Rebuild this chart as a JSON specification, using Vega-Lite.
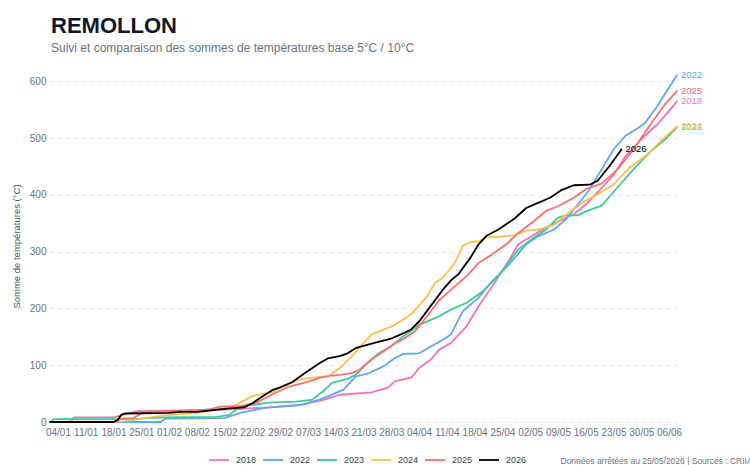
{
  "$schema": "https://vega.github.io/schema/vega-lite/v6.json",
  "width": 627,
  "height": 352,
  "autosize": {"type": "none"},
  "padding": {"left": 50, "top": 70, "right": 73, "bottom": 43},
  "background": "white",
  "config": {
    "font": "Liberation Sans",
    "view": {"stroke": null}
  },
  "title": {
    "text": "REMOLLON",
    "subtitle": "Suivi et comparaison des sommes de températures base 5°C / 10°C",
    "anchor": "start",
    "frame": "group",
    "font": "Liberation Sans",
    "fontSize": 22,
    "fontWeight": "bold",
    "color": "#0f172a",
    "subtitleFont": "Liberation Sans",
    "subtitleFontSize": 12,
    "subtitleColor": "#6b7280",
    "subtitlePadding": 5,
    "offset": 15,
    "dx": 1
  },
  "data": {
    "values": [
      {"year": "2018", "day": 2, "v": 0}, {"year": "2018", "day": 7, "v": 0}, {"year": "2018", "day": 8, "v": 8}, {"year": "2018", "day": 18, "v": 8}, {"year": "2018", "day": 19, "v": 10}, {"year": "2018", "day": 24, "v": 19}, {"year": "2018", "day": 32, "v": 20}, {"year": "2018", "day": 46, "v": 22}, {"year": "2018", "day": 56, "v": 25}, {"year": "2018", "day": 60, "v": 27}, {"year": "2018", "day": 64, "v": 29}, {"year": "2018", "day": 71, "v": 39}, {"year": "2018", "day": 75, "v": 48}, {"year": "2018", "day": 83, "v": 52}, {"year": "2018", "day": 87, "v": 60}, {"year": "2018", "day": 89, "v": 72}, {"year": "2018", "day": 93, "v": 78}, {"year": "2018", "day": 95, "v": 95}, {"year": "2018", "day": 98, "v": 110}, {"year": "2018", "day": 100, "v": 127}, {"year": "2018", "day": 103, "v": 139}, {"year": "2018", "day": 107, "v": 169}, {"year": "2018", "day": 110, "v": 204}, {"year": "2018", "day": 114, "v": 245}, {"year": "2018", "day": 118, "v": 289}, {"year": "2018", "day": 120, "v": 313}, {"year": "2018", "day": 124, "v": 330}, {"year": "2018", "day": 127, "v": 342}, {"year": "2018", "day": 130, "v": 353}, {"year": "2018", "day": 134, "v": 366}, {"year": "2018", "day": 137, "v": 383}, {"year": "2018", "day": 141, "v": 412}, {"year": "2018", "day": 144, "v": 435}, {"year": "2018", "day": 147, "v": 468}, {"year": "2018", "day": 151, "v": 498}, {"year": "2018", "day": 155, "v": 524}, {"year": "2018", "day": 158, "v": 548}, {"year": "2018", "day": 160, "v": 565},

      {"year": "2022", "day": 2, "v": 0}, {"year": "2022", "day": 30, "v": 0}, {"year": "2022", "day": 31, "v": 6}, {"year": "2022", "day": 46, "v": 7}, {"year": "2022", "day": 50, "v": 16}, {"year": "2022", "day": 56, "v": 25}, {"year": "2022", "day": 66, "v": 31}, {"year": "2022", "day": 71, "v": 42}, {"year": "2022", "day": 76, "v": 57}, {"year": "2022", "day": 79, "v": 80}, {"year": "2022", "day": 82, "v": 85}, {"year": "2022", "day": 86, "v": 98}, {"year": "2022", "day": 89, "v": 113}, {"year": "2022", "day": 91, "v": 120}, {"year": "2022", "day": 95, "v": 121}, {"year": "2022", "day": 98, "v": 133}, {"year": "2022", "day": 101, "v": 145}, {"year": "2022", "day": 103, "v": 154}, {"year": "2022", "day": 106, "v": 195}, {"year": "2022", "day": 110, "v": 219}, {"year": "2022", "day": 113, "v": 245}, {"year": "2022", "day": 118, "v": 280}, {"year": "2022", "day": 122, "v": 313}, {"year": "2022", "day": 125, "v": 327}, {"year": "2022", "day": 129, "v": 339}, {"year": "2022", "day": 132, "v": 357}, {"year": "2022", "day": 136, "v": 392}, {"year": "2022", "day": 138, "v": 410}, {"year": "2022", "day": 141, "v": 445}, {"year": "2022", "day": 144, "v": 480}, {"year": "2022", "day": 147, "v": 504}, {"year": "2022", "day": 150, "v": 517}, {"year": "2022", "day": 152, "v": 527}, {"year": "2022", "day": 155, "v": 556}, {"year": "2022", "day": 157, "v": 578}, {"year": "2022", "day": 159, "v": 600}, {"year": "2022", "day": 160, "v": 611},

      {"year": "2023", "day": 2, "v": 0}, {"year": "2023", "day": 3, "v": 5}, {"year": "2023", "day": 18, "v": 5}, {"year": "2023", "day": 25, "v": 6}, {"year": "2023", "day": 31, "v": 8}, {"year": "2023", "day": 44, "v": 9}, {"year": "2023", "day": 47, "v": 12}, {"year": "2023", "day": 50, "v": 27}, {"year": "2023", "day": 57, "v": 34}, {"year": "2023", "day": 64, "v": 36}, {"year": "2023", "day": 68, "v": 39}, {"year": "2023", "day": 71, "v": 55}, {"year": "2023", "day": 73, "v": 69}, {"year": "2023", "day": 77, "v": 76}, {"year": "2023", "day": 79, "v": 83}, {"year": "2023", "day": 82, "v": 104}, {"year": "2023", "day": 85, "v": 122}, {"year": "2023", "day": 88, "v": 133}, {"year": "2023", "day": 91, "v": 151}, {"year": "2023", "day": 93, "v": 160}, {"year": "2023", "day": 95, "v": 171}, {"year": "2023", "day": 100, "v": 186}, {"year": "2023", "day": 103, "v": 198}, {"year": "2023", "day": 107, "v": 210}, {"year": "2023", "day": 111, "v": 230}, {"year": "2023", "day": 115, "v": 257}, {"year": "2023", "day": 120, "v": 304}, {"year": "2023", "day": 124, "v": 325}, {"year": "2023", "day": 127, "v": 339}, {"year": "2023", "day": 130, "v": 360}, {"year": "2023", "day": 132, "v": 364}, {"year": "2023", "day": 135, "v": 364}, {"year": "2023", "day": 137, "v": 371}, {"year": "2023", "day": 141, "v": 381}, {"year": "2023", "day": 145, "v": 413}, {"year": "2023", "day": 149, "v": 445}, {"year": "2023", "day": 153, "v": 474}, {"year": "2023", "day": 157, "v": 498}, {"year": "2023", "day": 160, "v": 519},

      {"year": "2024", "day": 2, "v": 0}, {"year": "2024", "day": 21, "v": 1}, {"year": "2024", "day": 25, "v": 6}, {"year": "2024", "day": 28, "v": 9}, {"year": "2024", "day": 32, "v": 12}, {"year": "2024", "day": 35, "v": 14}, {"year": "2024", "day": 39, "v": 16}, {"year": "2024", "day": 42, "v": 19}, {"year": "2024", "day": 46, "v": 24}, {"year": "2024", "day": 49, "v": 30}, {"year": "2024", "day": 53, "v": 46}, {"year": "2024", "day": 56, "v": 50}, {"year": "2024", "day": 58, "v": 52}, {"year": "2024", "day": 61, "v": 64}, {"year": "2024", "day": 65, "v": 75}, {"year": "2024", "day": 68, "v": 78}, {"year": "2024", "day": 72, "v": 80}, {"year": "2024", "day": 75, "v": 95}, {"year": "2024", "day": 78, "v": 115}, {"year": "2024", "day": 81, "v": 139}, {"year": "2024", "day": 83, "v": 154}, {"year": "2024", "day": 85, "v": 160}, {"year": "2024", "day": 88, "v": 168}, {"year": "2024", "day": 91, "v": 180}, {"year": "2024", "day": 93, "v": 190}, {"year": "2024", "day": 95, "v": 205}, {"year": "2024", "day": 97, "v": 221}, {"year": "2024", "day": 99, "v": 245}, {"year": "2024", "day": 101, "v": 254}, {"year": "2024", "day": 104, "v": 280}, {"year": "2024", "day": 106, "v": 310}, {"year": "2024", "day": 108, "v": 317}, {"year": "2024", "day": 110, "v": 318}, {"year": "2024", "day": 112, "v": 326}, {"year": "2024", "day": 115, "v": 326}, {"year": "2024", "day": 119, "v": 329}, {"year": "2024", "day": 122, "v": 337}, {"year": "2024", "day": 125, "v": 339}, {"year": "2024", "day": 129, "v": 347}, {"year": "2024", "day": 132, "v": 365}, {"year": "2024", "day": 135, "v": 380}, {"year": "2024", "day": 137, "v": 390}, {"year": "2024", "day": 140, "v": 401}, {"year": "2024", "day": 144, "v": 418}, {"year": "2024", "day": 148, "v": 448}, {"year": "2024", "day": 152, "v": 468}, {"year": "2024", "day": 156, "v": 495}, {"year": "2024", "day": 160, "v": 521},

      {"year": "2025", "day": 2, "v": 0}, {"year": "2025", "day": 18, "v": 0}, {"year": "2025", "day": 20, "v": 6}, {"year": "2025", "day": 23, "v": 7}, {"year": "2025", "day": 25, "v": 15}, {"year": "2025", "day": 28, "v": 19}, {"year": "2025", "day": 39, "v": 20}, {"year": "2025", "day": 42, "v": 22}, {"year": "2025", "day": 45, "v": 27}, {"year": "2025", "day": 50, "v": 28}, {"year": "2025", "day": 54, "v": 34}, {"year": "2025", "day": 57, "v": 45}, {"year": "2025", "day": 60, "v": 55}, {"year": "2025", "day": 62, "v": 62}, {"year": "2025", "day": 66, "v": 69}, {"year": "2025", "day": 71, "v": 80}, {"year": "2025", "day": 75, "v": 83}, {"year": "2025", "day": 78, "v": 86}, {"year": "2025", "day": 80, "v": 92}, {"year": "2025", "day": 83, "v": 110}, {"year": "2025", "day": 86, "v": 124}, {"year": "2025", "day": 89, "v": 139}, {"year": "2025", "day": 91, "v": 146}, {"year": "2025", "day": 94, "v": 160}, {"year": "2025", "day": 97, "v": 186}, {"year": "2025", "day": 100, "v": 214}, {"year": "2025", "day": 104, "v": 239}, {"year": "2025", "day": 107, "v": 257}, {"year": "2025", "day": 110, "v": 280}, {"year": "2025", "day": 114, "v": 298}, {"year": "2025", "day": 117, "v": 313}, {"year": "2025", "day": 120, "v": 333}, {"year": "2025", "day": 124, "v": 354}, {"year": "2025", "day": 127, "v": 372}, {"year": "2025", "day": 130, "v": 380}, {"year": "2025", "day": 134, "v": 395}, {"year": "2025", "day": 137, "v": 410}, {"year": "2025", "day": 141, "v": 420}, {"year": "2025", "day": 145, "v": 445}, {"year": "2025", "day": 149, "v": 480}, {"year": "2025", "day": 153, "v": 521}, {"year": "2025", "day": 157, "v": 560}, {"year": "2025", "day": 160, "v": 583},

      {"year": "2026", "day": 2, "v": 0}, {"year": "2026", "day": 18, "v": 0}, {"year": "2026", "day": 19, "v": 3}, {"year": "2026", "day": 20, "v": 13}, {"year": "2026", "day": 21, "v": 15}, {"year": "2026", "day": 32, "v": 16}, {"year": "2026", "day": 35, "v": 18}, {"year": "2026", "day": 39, "v": 18}, {"year": "2026", "day": 42, "v": 20}, {"year": "2026", "day": 46, "v": 23}, {"year": "2026", "day": 49, "v": 25}, {"year": "2026", "day": 51, "v": 26}, {"year": "2026", "day": 53, "v": 33}, {"year": "2026", "day": 56, "v": 47}, {"year": "2026", "day": 58, "v": 56}, {"year": "2026", "day": 60, "v": 61}, {"year": "2026", "day": 63, "v": 70}, {"year": "2026", "day": 65, "v": 80}, {"year": "2026", "day": 67, "v": 90}, {"year": "2026", "day": 70, "v": 104}, {"year": "2026", "day": 72, "v": 112}, {"year": "2026", "day": 75, "v": 116}, {"year": "2026", "day": 77, "v": 121}, {"year": "2026", "day": 79, "v": 130}, {"year": "2026", "day": 81, "v": 134}, {"year": "2026", "day": 84, "v": 140}, {"year": "2026", "day": 88, "v": 147}, {"year": "2026", "day": 91, "v": 156}, {"year": "2026", "day": 93, "v": 163}, {"year": "2026", "day": 95, "v": 177}, {"year": "2026", "day": 96, "v": 186}, {"year": "2026", "day": 98, "v": 205}, {"year": "2026", "day": 101, "v": 233}, {"year": "2026", "day": 103, "v": 249}, {"year": "2026", "day": 105, "v": 261}, {"year": "2026", "day": 108, "v": 290}, {"year": "2026", "day": 110, "v": 313}, {"year": "2026", "day": 112, "v": 328}, {"year": "2026", "day": 115, "v": 339}, {"year": "2026", "day": 119, "v": 358}, {"year": "2026", "day": 122, "v": 377}, {"year": "2026", "day": 125, "v": 386}, {"year": "2026", "day": 128, "v": 395}, {"year": "2026", "day": 131, "v": 409}, {"year": "2026", "day": 134, "v": 417}, {"year": "2026", "day": 138, "v": 418}, {"year": "2026", "day": 140, "v": 425}, {"year": "2026", "day": 143, "v": 451}, {"year": "2026", "day": 146, "v": 480}
    ]
  },
  "encoding": {
    "x": {
      "field": "day",
      "type": "quantitative",
      "scale": {"domain": [2, 160], "nice": false, "zero": false},
      "axis": {
        "values": [4, 11, 18, 25, 32, 39, 46, 53, 60, 67, 74, 81, 88, 95, 102, 109, 116, 123, 130, 137, 144, 151, 158],
        "labelExpr": "timeFormat(datetime(2024, 0, datum.value), '%d/%m')",
        "grid": false,
        "domain": false,
        "ticks": false,
        "labelFontSize": 10,
        "labelColor": "#6b7280",
        "labelPadding": 5,
        "labelFlush": false,
        "labelOverlap": false,
        "title": "Données arrêtées au 25/05/2026 | Sources : CRIIAM Sud",
        "titleFontSize": 8.5,
        "titleFontWeight": "normal",
        "titleColor": "#6b7280",
        "titleAnchor": "start",
        "titleAlign": "left",
        "titleBaseline": "middle",
        "titleX": 510,
        "titleY": 38
      }
    },
    "y": {
      "field": "v",
      "type": "quantitative",
      "scale": {"domain": [0, 620], "nice": false},
      "axis": {
        "values": [0, 100, 200, 300, 400, 500, 600],
        "grid": true,
        "gridDash": [4, 4],
        "gridColor": "#e5e7eb",
        "domain": false,
        "ticks": false,
        "labelFontSize": 10,
        "labelColor": "#6b7280",
        "labelPadding": 4,
        "title": "Somme de températures (°C)",
        "titleFontSize": 9.5,
        "titleFontWeight": "normal",
        "titleColor": "#4b5563",
        "titlePadding": 8
      }
    },
    "color": {
      "field": "year",
      "type": "ordinal",
      "scale": {
        "domain": ["2018", "2022", "2023", "2024", "2025", "2026"],
        "range": ["#f472b6", "#60a5fa", "#3ecb97", "#fbbf4d", "#f87171", "#000000"]
      }
    }
  },
  "layer": [
    {
      "mark": {"type": "line", "strokeJoin": "round", "strokeCap": "round", "clip": false},
      "encoding": {
        "strokeWidth": {
          "field": "year",
          "type": "ordinal",
          "scale": {
            "domain": ["2018", "2022", "2023", "2024", "2025", "2026"],
            "range": [1.8, 1.8, 1.8, 1.8, 1.8, 3.5]
          }
        },
        "color": {
          "field": "year",
          "type": "ordinal",
          "legend": {
            "orient": "none",
            "legendX": 158,
            "legendY": 379,
            "direction": "horizontal",
            "title": null,
            "symbolType": "stroke",
            "symbolSize": 400,
            "labelFontSize": 9,
            "labelFontWeight": "normal",
            "labelColor": "#374151",
            "labelOffset": 6,
            "columnPadding": 2
          }
        }
      }
    },
    {
      "transform": [
        {"joinaggregate": [{"op": "max", "field": "day", "as": "maxday"}], "groupby": ["year"]},
        {"filter": "datum.day == datum.maxday"}
      ],
      "mark": {"type": "text", "align": "left", "baseline": "middle", "dx": 4, "fontSize": 9.5, "clip": false},
      "encoding": {
        "text": {"field": "year"},
        "color": {"field": "year", "type": "ordinal", "legend": null}
      }
    }
  ]
}
